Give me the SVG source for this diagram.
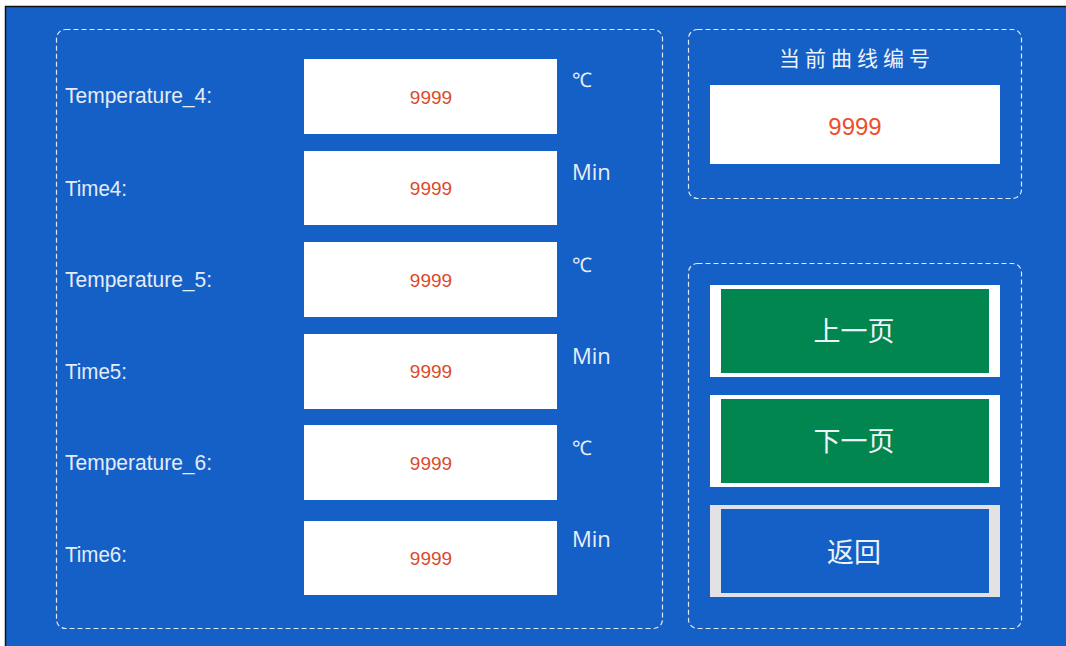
<svg xmlns="http://www.w3.org/2000/svg" width="1066" height="646" viewBox="0 0 1066 646">
<style>
.panel{fill:none;stroke:#dfe8f5;stroke-width:1.2;stroke-dasharray:5 3}
.field{fill:#ffffff}
.lbl{font-family:"Liberation Sans",Arial,sans-serif;font-size:22px;fill:#e4ecf8}
.unit{font-family:"Open Sans","Liberation Sans",sans-serif;fill:#e8eef8}
.val{font-family:"Liberation Sans",Arial,sans-serif;fill:#dc4a2c;text-anchor:middle}
.cn{font-family:"Noto Sans CJK SC",sans-serif;fill:#eef3fa;text-anchor:middle}
</style>
<rect x="0" y="0" width="1066" height="646" fill="#ffffff"/>
<rect x="5" y="6" width="1061" height="640" fill="#1560C6"/>
<line x1="5" y1="6.5" x2="1066" y2="6.5" stroke="#111" stroke-width="1.5"/>
<line x1="5.5" y1="6" x2="5.5" y2="646" stroke="#111" stroke-width="1.5"/>

<g id="left-panel">
<rect class="panel" x="56.5" y="29.5" width="606" height="599" rx="9"/>
</g>
<g id="row-temp4">
<text class="lbl" x="65" y="103" textLength="147" lengthAdjust="spacingAndGlyphs">Temperature_4:</text>
<rect class="field" x="304" y="59" width="253" height="75"/>
<text class="val" x="431" y="104" font-size="19">9999</text>
<text class="unit" x="572" y="87" font-size="20">℃</text>
</g>
<g id="row-time4">
<text class="lbl" x="65" y="196" textLength="62" lengthAdjust="spacingAndGlyphs">Time4:</text>
<rect class="field" x="304" y="151" width="253" height="74"/>
<text class="val" x="431" y="195" font-size="19">9999</text>
<text class="unit" x="572" y="180" font-size="22">Min</text>
</g>
<g id="row-temp5">
<text class="lbl" x="65" y="287" textLength="147" lengthAdjust="spacingAndGlyphs">Temperature_5:</text>
<rect class="field" x="304" y="242" width="253" height="75"/>
<text class="val" x="431" y="287" font-size="19">9999</text>
<text class="unit" x="572" y="272" font-size="20">℃</text>
</g>
<g id="row-time5">
<text class="lbl" x="65" y="379" textLength="62" lengthAdjust="spacingAndGlyphs">Time5:</text>
<rect class="field" x="304" y="334" width="253" height="75"/>
<text class="val" x="431" y="378" font-size="19">9999</text>
<text class="unit" x="572" y="364" font-size="22">Min</text>
</g>
<g id="row-temp6">
<text class="lbl" x="65" y="470" textLength="147" lengthAdjust="spacingAndGlyphs">Temperature_6:</text>
<rect class="field" x="304" y="425" width="253" height="75"/>
<text class="val" x="431" y="470" font-size="19">9999</text>
<text class="unit" x="572" y="455" font-size="20">℃</text>
</g>
<g id="row-time6">
<text class="lbl" x="65" y="562" textLength="62" lengthAdjust="spacingAndGlyphs">Time6:</text>
<rect class="field" x="304" y="521" width="253" height="74"/>
<text class="val" x="431" y="565" font-size="19">9999</text>
<text class="unit" x="572" y="547" font-size="22">Min</text>
</g>

<g id="curve-panel">
<rect class="panel" x="688.5" y="29.5" width="333" height="169" rx="9"/>
<text class="cn" x="857" y="66" font-size="21" letter-spacing="5">当前曲线编号</text>
<rect class="field" x="710" y="85" width="290" height="79"/>
<text class="val" x="855" y="135" font-size="24" style="fill:#ee4f2b">9999</text>
</g>

<g id="button-panel">
<rect class="panel" x="688.5" y="263.5" width="333" height="365" rx="9"/>
</g>
<g id="btn-prev">
<rect x="710" y="285" width="290" height="92" fill="#ffffff"/>
<rect x="721" y="289" width="268" height="84" fill="#00864E"/>
<text class="cn" x="854" y="341" font-size="27">上一页</text>
</g>
<g id="btn-next">
<rect x="710" y="395" width="290" height="92" fill="#ffffff"/>
<rect x="721" y="399" width="268" height="84" fill="#00864E"/>
<text class="cn" x="854" y="451" font-size="27">下一页</text>
</g>
<g id="btn-back">
<rect x="710" y="505" width="290" height="92" fill="#E2E2E4"/>
<rect x="721" y="509" width="268" height="84" fill="#1560C6"/>
<text class="cn" x="854" y="562" font-size="27">返回</text>
</g>
</svg>
